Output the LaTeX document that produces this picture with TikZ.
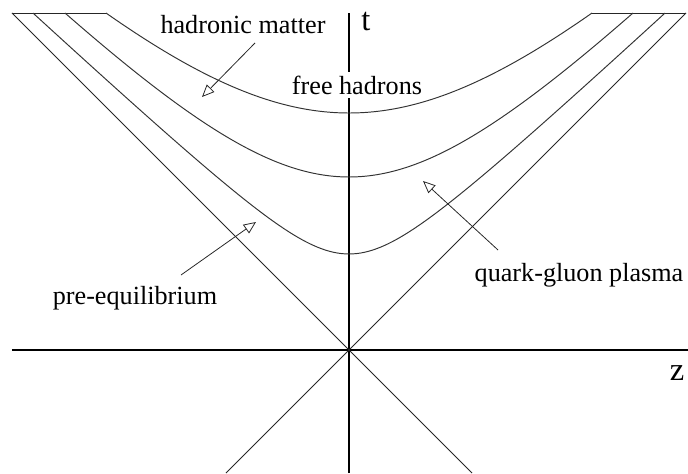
\documentclass[tikz,border=0pt]{standalone}
\usepackage{fontspec}
\setmainfont{Liberation Serif}
\usetikzlibrary{arrows.meta,positioning}

\begin{document}
\begin{tikzpicture}[x=0.02cm,y=0.02cm,line width=0.5pt]
\tikzstyle{axis}=[line width=0.6pt]
\tikzstyle{cone}=[line width=0.45pt,black!85]
\tikzstyle{curve}=[line width=0.55pt,black!80]
\tikzstyle{region}=[font=\fontsize{14.9}{18}\selectfont,inner sep=1pt]
\tikzstyle{axlabel}=[font=\fontsize{18.5}{22}\selectfont,inner sep=1pt]
\tikzstyle{pointer}=[-{Triangle[open,length=7pt,width=6pt]},line width=0.45pt,black!85]
\useasboundingbox (-349,-123) rectangle (339,350);

\coordinate (o) at (0,0);
\draw[axis] (-337,0) -- (339,0);
\draw[axis] (0,-123) -- (0,337);
\draw[cone] (-337,337) -- (o) -- (123,-123);
\draw[cone] (337,337) -- (o) -- (-123,-123);
\draw[cone] (-337,337) -- (-243,337);
\draw[cone] (243,337) -- (337,337);

\draw[curve] plot[domain=-316:316,samples=81,smooth] (\x,{100*(0.36+sqrt(0.36+0.871*(\x/100)^2))});
\draw[curve] plot[domain=-284:284,samples=81,smooth] (\x,{100*sqrt(2.9929+1.037*(\x/100)^2)});
\draw[curve] plot[domain=-243:243,samples=81,smooth] (\x,{100*sqrt(5.6169+0.972*(\x/100)^2)});

\node[axlabel] (tl) at (17,328) {t};
\node[axlabel] (zl) at (328,-23) {z};
\node[region] (hm) at (-106,325) {hadronic matter};
\node[region,fill=white,inner sep=2pt] (fh) at (8,265) {free hadrons};
\node[region] (qgp) at (230,75) {quark-gluon plasma};
\node[region] (pe) at (-214,52) {pre-equilibrium};

\coordinate (hmtip) at (-147,253);
\coordinate (qgptip) at (74,169);
\coordinate (petip) at (-93,128);

\draw[pointer] ([shift={(12,-18)}]hm.center) -- (hmtip);
\draw[pointer] ([shift={(-81,25)}]qgp.center) -- (qgptip);
\draw[pointer] ([shift={(46,23)}]pe.center) -- (petip);
\end{tikzpicture}
\end{document}
